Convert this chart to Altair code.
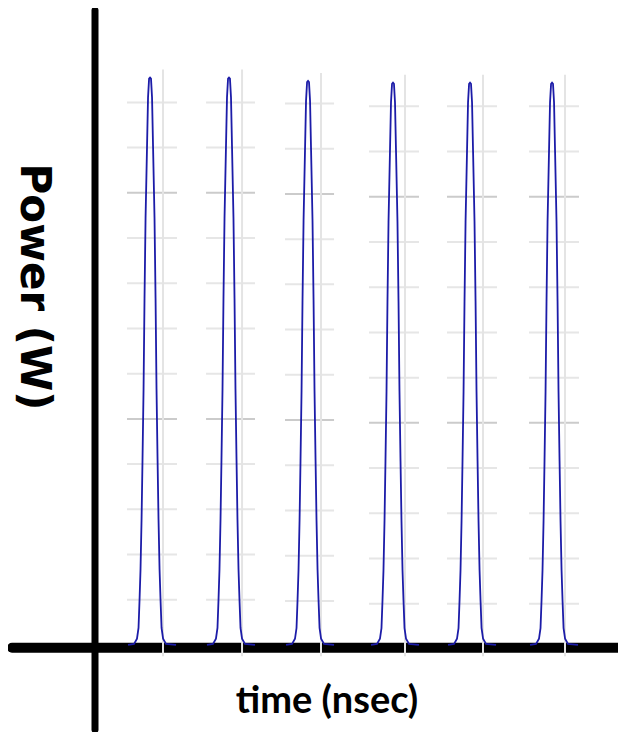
import altair as alt
import pandas as pd

# ---- data ----
PULSE_PEAK_TIME = [0.688, 1.675, 2.663, 3.725, 4.688, 5.713]     # ns
PULSE_PEAK_POWER = [10.04, 10.04, 9.98, 9.95, 9.95, 9.95]         # W
# shape of one pulse (time offset from peak in ns, power in W for a 10 W peak)
SHAPE_OFFSET = [-0.275, -0.200, -0.163, -0.144, -0.131, -0.119, -0.106, -0.094,
                -0.081, -0.069, -0.056, -0.038, -0.025, -0.012, 0.000, 0.012,
                0.025, 0.038, 0.056, 0.069, 0.081, 0.094, 0.106, 0.119, 0.131,
                0.144, 0.163, 0.200, 0.325]
SHAPE_POWER = [0.00, 0.02, 0.11, 0.30, 0.80, 1.33, 2.21, 3.27,
               4.51, 6.11, 7.52, 8.76, 9.65, 9.98, 10.00, 9.98,
               9.65, 8.76, 7.52, 6.11, 4.51, 3.27, 2.21, 1.33, 0.80,
               0.30, 0.11, 0.02, 0.00]

GRID_LEFT = [0.400, 1.388, 2.375, 3.425, 4.400, 5.425]
GRID_RIGHT = [1.025, 2.000, 2.988, 4.050, 5.025, 6.050]
GRID_VLINE = [0.850, 1.838, 2.825, 3.875, 4.850, 5.875]
GRID_SHIFT = [0.00, 0.00, -0.02, -0.07, -0.07, -0.07]
GRID_TOP = [10.18, 10.18, 10.12, 10.09, 10.09, 10.09]
GRID_LEVELS = [0.8, 1.6, 2.4, 3.2, 4.0, 4.8, 5.6, 6.4, 7.2, 8.0, 8.8, 9.6]
GRID_MAJOR = [4.0, 8.0]
GRID_BOTTOM = -0.2

X_LABEL = "time (nsec)"
Y_LABEL = "Power (W)"
X_DOMAIN = [-1.0875, 6.5375]
Y_DOMAIN = [-1.54, 11.27]
AXIS_TIME = [0.0]
AXIS_POWER = [-0.05]

# ---- tables ----
pulse_rows = []
for i, (tp, pp) in enumerate(zip(PULSE_PEAK_TIME, PULSE_PEAK_POWER)):
    for j, (o, p) in enumerate(zip(SHAPE_OFFSET, SHAPE_POWER)):
        pulse_rows.append({"pulse": i, "j": j, "t": tp + o, "P": p * pp / 10.0})
pulses = pd.DataFrame(pulse_rows)

hgrid_rows = []
for i in range(len(GRID_LEFT)):
    for lv in GRID_LEVELS:
        hgrid_rows.append({"x": GRID_LEFT[i], "x2": GRID_RIGHT[i],
                           "y": lv + GRID_SHIFT[i],
                           "shade": "major" if lv in GRID_MAJOR else "minor"})
hgrid = pd.DataFrame(hgrid_rows)

vgrid = pd.DataFrame({"x": GRID_VLINE, "y": GRID_TOP,
                      "y2": [GRID_BOTTOM] * len(GRID_VLINE)})

xs = alt.Scale(domain=X_DOMAIN, nice=False, zero=False)
ys = alt.Scale(domain=Y_DOMAIN, nice=False, zero=False)

yaxis_df = pd.DataFrame({"t": AXIS_TIME})
xaxis_df = pd.DataFrame({"P": AXIS_POWER})
base_dummy = pd.DataFrame({"a": [0]})

y_axis_line = alt.Chart(yaxis_df).mark_rule(
    color="black", strokeWidth=7, strokeCap="round"
).encode(x=alt.X("t:Q", scale=xs, axis=None), y=alt.value(2.5), y2=alt.value(721.5))

x_axis_line = alt.Chart(xaxis_df).mark_rule(
    color="black", strokeWidth=10, strokeCap="round"
).encode(y=alt.Y("P:Q", scale=ys, axis=None), x=alt.value(4), x2=alt.value(612))

hlines = alt.Chart(hgrid).mark_rule(strokeWidth=2).encode(
    x=alt.X("x:Q", scale=xs, axis=None),
    x2="x2:Q",
    y=alt.Y("y:Q", scale=ys, axis=None),
    color=alt.Color("shade:N", scale=alt.Scale(domain=["minor", "major"],
                                               range=["#e6e6e6", "#cbcbcb"]),
                    legend=None),
)

vlines = alt.Chart(vgrid).mark_rule(strokeWidth=2, color="#e4e4e4").encode(
    x=alt.X("x:Q", scale=xs, axis=None),
    y=alt.Y("y:Q", scale=ys, axis=None),
    y2="y2:Q",
)

lines = alt.Chart(pulses).mark_line(color="#1c1ca8", strokeWidth=1.8,
                                    interpolate="linear").encode(
    x=alt.X("t:Q", scale=xs, axis=None),
    y=alt.Y("P:Q", scale=ys, axis=None),
    detail="pulse:N",
    order="j:Q",
)

ylab = alt.Chart(base_dummy).mark_text(
    text=Y_LABEL, angle=90, align="center", baseline="alphabetic",
    font="DejaVu Sans", fontWeight="bold", fontSize=42, color="black"
).encode(x=alt.value(13), y=alt.value(279))

xlab = alt.Chart(base_dummy).mark_text(
    text=X_LABEL, align="center", baseline="alphabetic",
    font="Lato", fontWeight="bold",
    fontSize=38, color="black"
).encode(x=alt.value(319), y=alt.value(705))

chart = alt.layer(
    y_axis_line, x_axis_line, hlines, vlines, lines, ylab, xlab
).properties(
    width=610, height=724, padding=0, autosize="none"
).configure_view(stroke=None)

chart.save("out.html", embed_options={"renderer": "svg", "actions": False})
